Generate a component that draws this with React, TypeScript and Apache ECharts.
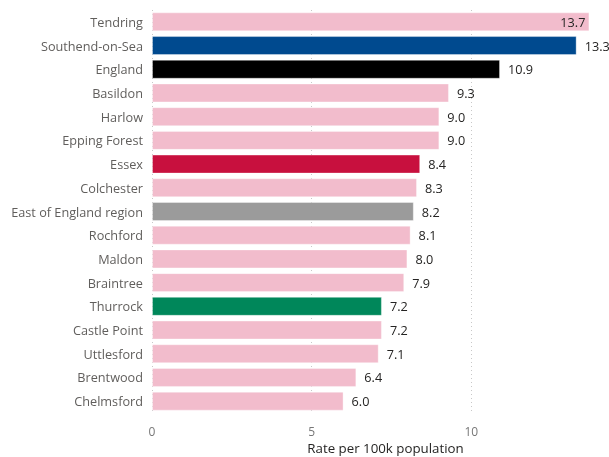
import React, { useEffect, useRef } from "react";
import * as echarts from "echarts";

const categories = [
  "Tendring", "Southend-on-Sea", "England", "Basildon", "Harlow", "Epping Forest",
  "Essex", "Colchester", "East of England region", "Rochford", "Maldon", "Braintree",
  "Thurrock", "Castle Point", "Uttlesford", "Brentwood", "Chelmsford",
];
const values = [13.7, 13.3, 10.9, 9.3, 9.0, 9.0, 8.4, 8.3, 8.2, 8.1, 8.0, 7.9, 7.2, 7.2, 7.1, 6.4, 6.0];
const highlight: Record<string, string> = {
  "Southend-on-Sea": "#004A8F",
  England: "#000000",
  Essex: "#C8103E",
  "East of England region": "#9B9B9B",
  Thurrock: "#00875A",
};
const defaultColor = "#F2BCCC";
const xTicks = [0, 5, 10];

export default function App() {
  const ref = useRef<HTMLDivElement>(null);
  useEffect(() => {
    if (!ref.current) return;
    const chart = echarts.init(ref.current, null, { renderer: "svg" });
    const font = "'Open Sans', 'Segoe UI', sans-serif";
    chart.setOption({
      animation: false,
      grid: {
        left: 152,
        right: 10,
        top: 10,
        bottom: 44,
        containLabel: false,
        outerBoundsMode: "none",
      },
      xAxis: {
        type: "value",
        min: 0,
        max: 14,
        interval: 5,
        axisLine: { show: false },
        axisTick: { show: false },
        splitLine: {
          show: true,
          showMaxLine: false,
          lineStyle: { type: [1, 3], color: "#C8C8C8", width: 1 },
        },
        axisLabel: {
          color: "#777777",
          fontSize: 12,
          fontFamily: font,
          margin: 12,
          formatter: (v: number) => (xTicks.includes(v) ? String(v) : ""),
        },
        name: "Rate per 100k population",
        nameLocation: "middle",
        nameGap: 28,
        nameTextStyle: { color: "#252423", fontSize: 13.3, fontFamily: font, padding: [0, 0, 0, 20] },
      },
      yAxis: {
        type: "category",
        data: categories,
        inverse: true,
        axisLine: { show: false },
        axisTick: { show: false },
        axisLabel: { color: "#605E5C", fontSize: 12.7, fontFamily: font, margin: 9 },
      },
      series: [
        {
          type: "bar",
          barCategoryGap: "20%",
          data: values.map((v, i) => {
            const name = categories[i];
            const c = highlight[name] || defaultColor;
            const item: any = {
              value: v,
              itemStyle: { color: c, borderColor: "rgba(255,255,255,0.35)", borderWidth: 1 },
            };
            if (i === 0) {
              item.label = { position: "insideRight", distance: 4 };
            }
            return item;
          }),
          label: {
            show: true,
            position: "right",
            distance: 8,
            color: "#252423",
            fontSize: 12.7,
            fontFamily: font,
            formatter: (p: any) => Number(p.value).toFixed(1),
          },
        },
      ],
    });
    return () => chart.dispose();
  }, []);
  return (
    <div
      ref={ref}
      style={{ position: "fixed", left: 0, top: 0, width: 609, height: 457 }}
    />
  );
}
